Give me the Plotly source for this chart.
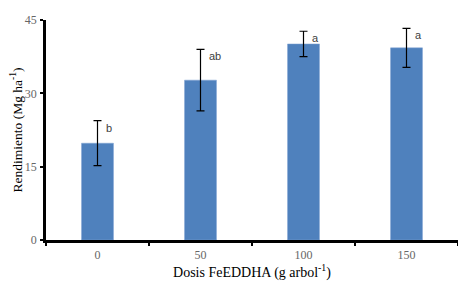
import plotly.graph_objects as go

categories = ["0", "50", "100", "150"]
values = [19.8, 32.7, 40.1, 39.3]
errors = [4.6, 6.3, 2.6, 4.0]
letters = ["b", "ab", "a", "a"]
y_ticks = [0, 15, 30, 45]

fig = go.Figure()
fig.add_trace(go.Bar(
    x=categories, y=values, width=0.31,
    marker=dict(color="#4F81BD", line=dict(color="#7FA3D3", width=0.5)),
    error_y=dict(type="data", array=errors, visible=True, color="black", thickness=1.2, width=4),
))
for i, (v, e, l) in enumerate(zip(values, errors, letters)):
    fig.add_annotation(x=i, y=v + e, text=l, showarrow=False, xanchor="left", yanchor="top",
                       xshift=6, yshift=1,
                       font=dict(family="Liberation Sans, Arial", size=11, color="#404040"))

fig.update_layout(
    width=458, height=281,
    margin=dict(l=38, r=8, t=12, b=49),
    plot_bgcolor="white", paper_bgcolor="white",
    showlegend=False,
    xaxis=dict(type="category", categoryorder="array", categoryarray=categories,
               range=[-0.5, 3.5]),
)
fig.update_xaxes(
    automargin=False,
    showline=True, linecolor="black", linewidth=2.5,
    ticks="outside", tickson="boundaries", ticklen=3, tickwidth=2, tickcolor="black",
    ticklabelstandoff=2,
    tickfont=dict(family="Liberation Serif, Times New Roman", size=12, color="#666666"),
    title=dict(text="Dosis FeEDDHA (g arbol<sup>-1</sup>)", standoff=2,
               font=dict(family="Liberation Serif, Times New Roman", size=14, color="black")),
    showgrid=False,
)
fig.update_yaxes(
    automargin=False,
    range=[0, 45], tickvals=y_ticks, showline=True, linecolor="black", linewidth=2.5,
    ticks="outside", ticklen=3, tickwidth=2, tickcolor="black",
    ticklabelstandoff=1,
    tickfont=dict(family="Liberation Serif, Times New Roman", size=12, color="#666666"),
    title=dict(text="Rendimiento (Mg ha<sup>-1</sup>)", standoff=6,
               font=dict(family="Liberation Serif, Times New Roman", size=13.5, color="black")),
    showgrid=False, zeroline=False,
)
fig.write_html("out.html")
